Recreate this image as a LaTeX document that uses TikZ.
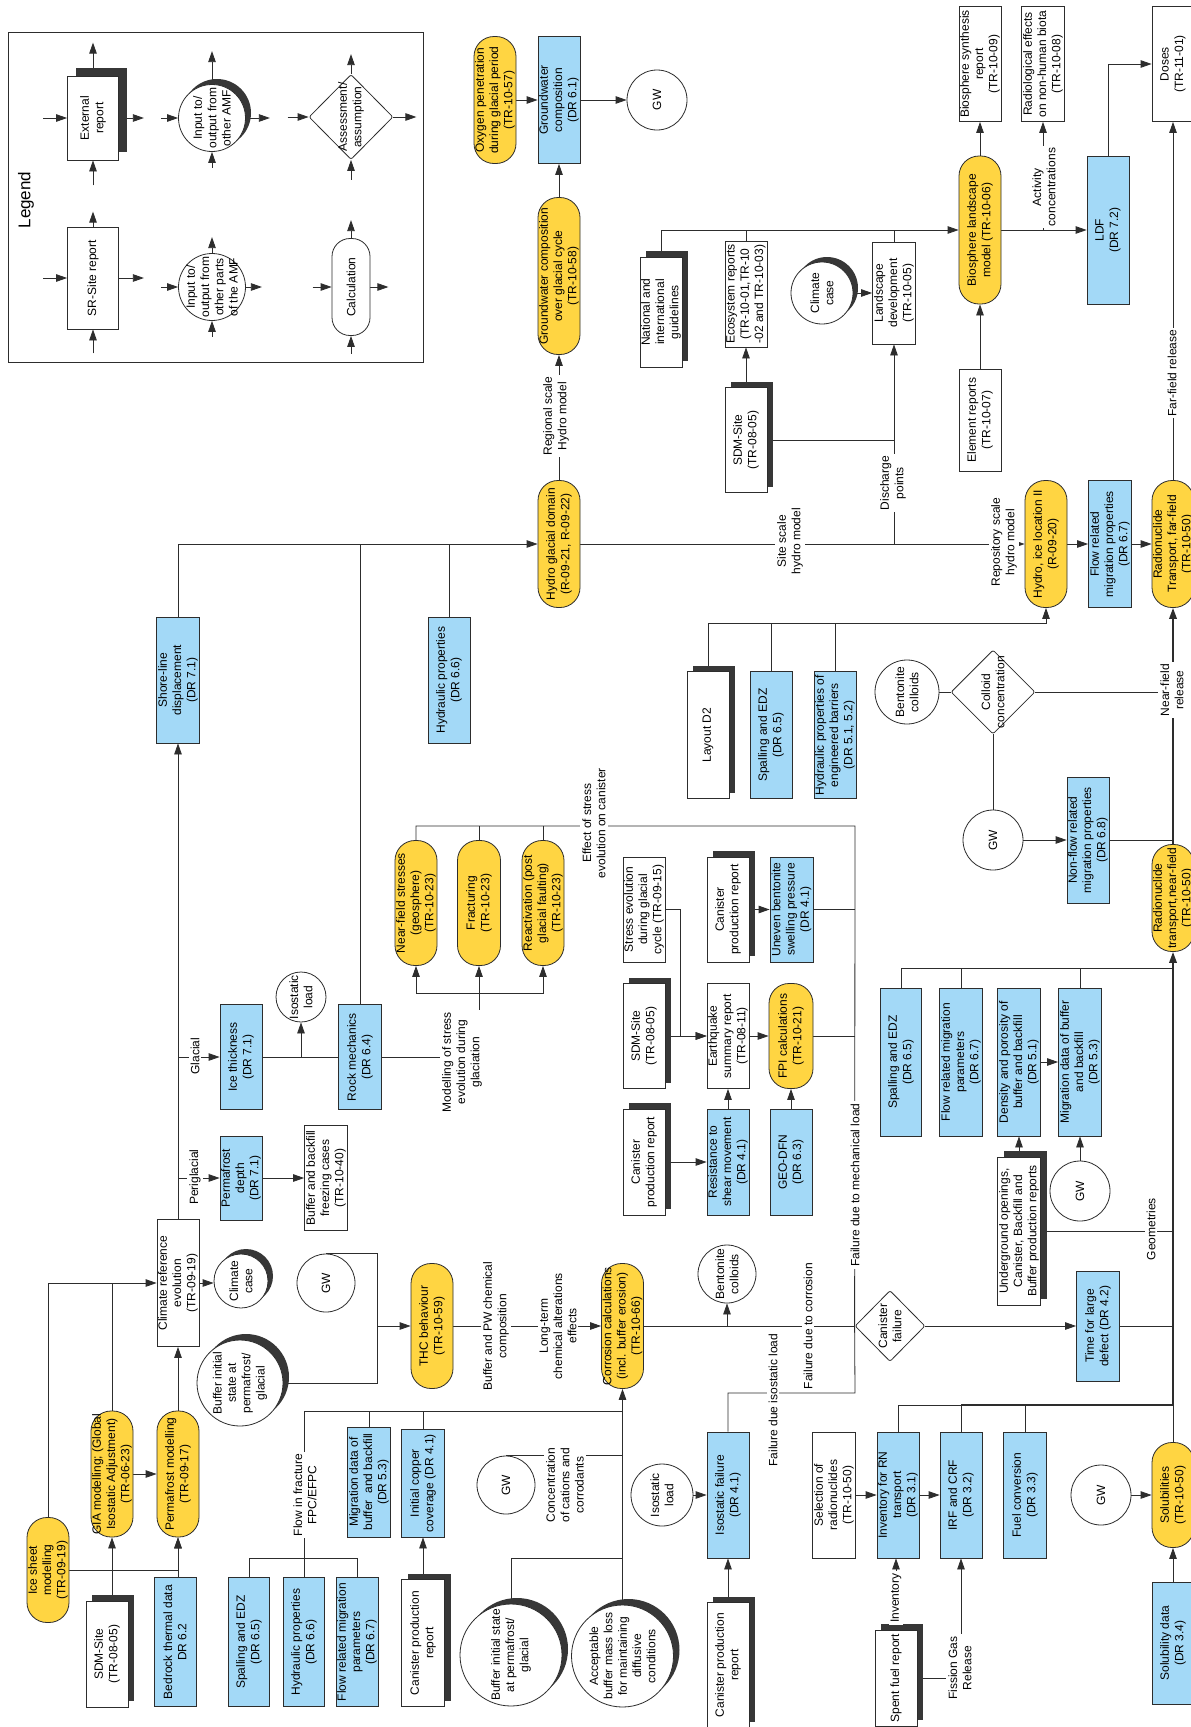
\documentclass[tikz,border=0pt]{standalone}
\usepackage{fontspec}
\setmainfont{Liberation Sans}
\usetikzlibrary{arrows.meta,shapes.geometric,backgrounds}
\definecolor{bluec}{RGB}{163,217,247}
\definecolor{yellowc}{RGB}{255,213,66}
\definecolor{linec}{RGB}{45,45,45}
\definecolor{shadowc}{RGB}{55,55,55}
\newcommand\diagfont{\fontsize{12}{14.3}\selectfont}
\newcommand\shrect[5][6]{\fill[shadowc] ({#2-#4/2+#1},{#3-#5/2-#1}) rectangle ({#2+#4/2+#1},{#3+#5/2-#1});}
\newcommand\shcirc[4][5]{\fill[shadowc] ({#2+#1},{#3-#1}) circle[radius=#4pt];}
\tikzset{
  nbase/.style={rotate=90, align=center, font=\diagfont, inner sep=1pt, line width=0.8pt, draw=linec},
  rep/.style={nbase, fill=white},
  blu/.style={nbase, fill=bluec},
  yel/.style={nbase, fill=yellowc, rounded corners=20pt},
  wh/.style 2 args={minimum height=#1pt, minimum width=#2pt},
  circ/.style={circle, draw=linec, fill=white, line width=0.8pt, inner sep=0pt},
  dia/.style={diamond, draw=linec, fill=white, line width=0.8pt, inner sep=0pt, rounded corners=2pt},
  ctext/.style={rotate=90, align=center, font=\diagfont, inner sep=0pt},
  lbl/.style={rotate=90, align=center, font=\diagfont, fill=white, inner sep=2pt},
  ln/.style={draw=linec, line width=0.8pt},
  arr/.style={ln, -{Triangle[length=11pt,width=7.5pt]}},
  heavy/.style={line width=1.8pt},
}
\begin{document}
\begin{tikzpicture}[x=1pt,y=-1pt]
\useasboundingbox (0,0) rectangle (1191,1727);
% ================= legend
\node[draw=linec, line width=0.8pt, minimum width=415pt, minimum height=330pt, inner sep=0pt] (legendframe) at (215.5,197) {};
\node[rotate=90, font=\fontsize{17}{20}\selectfont, inner sep=0pt] (legendtitle) at (26,200) {Legend};
\shrect[8]{93}{118}{51}{84}
\node[rep, wh={51}{84}] (Lext) at (93,118) {External\\report};
\node[rep, wh={51}{102}] (Lsr) at (93,278) {SR-Site report};
\shcirc[5]{212}{118}{34}
\node[circ, minimum size=67pt] (Lc2) at (212,118) {};
\node[ctext] (Lc2t) at (Lc2) {Input to/\\output from\\other AMF};
\node[circ, minimum size=67pt] (Lc1) at (212,287) {};
\node[ctext] (Lc1t) at (Lc1) {Input to/\\output from\\other parts\\of the AMF};
\node[dia, minimum width=84pt, minimum height=85pt] (Ldia) at (351,117) {};
\node[ctext] (Ldiat) at (Ldia) {Assessment/\\assumption};
\node[yel, fill=white, rounded corners=18pt, wh={38}{97}] (Lcalc) at (351,287) {Calculation};
% ================= top
\node[yel, wh={42}{127}] (oxy) at (495,100) {Oxygen penetration\\during glacial period\\(TR-10-57)};
\node[blu, wh={42}{127}] (gwc) at (559,100) {Groundwater\\composition\\(DR 6.1)};
\node[circ, rotate=90, font=\diagfont, minimum size=60pt] (gw1) at (657,100) {GW};
\node[yel, wh={42}{157}] (gcgc) at (559,276) {Groundwater composition\\over glacial cycle\\(TR-10-58)};
\shrect{661}{312}{42}{110}
\node[rep, wh={42}{110}] (nat) at (661,312) {National and\\international\\guidelines};
\node[rep, wh={42}{106}] (eco) at (746,294) {Ecosystem reports\\(TR-10-01,TR-10\\-02 and TR-10-03)};
\shrect{746}{440}{42}{105}
\node[rep, wh={42}{105}] (sdmA) at (746,440) {SDM-Site\\(TR-08-05)};
\shcirc{822}{293}{31}
\node[circ, minimum size=62pt] (ccA) at (822,293) {};
\node[ctext] (ccAt) at (ccA) {Climate\\case};
\node[rep, wh={43}{102}] (land) at (894,293) {Landscape\\development\\(TR-10-05)};
\node[yel, wh={42}{148}] (bio) at (980,230) {Biosphere landscape\\model (TR-10-06)};
\node[rep, wh={42}{115}] (bsyn) at (980,64) {Biosphere synthesis\\report\\(TR-10-09)};
\node[rep, wh={43}{115}] (rad) at (1043,64) {Radiological effects\\on non-human biota\\(TR-10-08)};
\node[rep, wh={42}{115}] (doses) at (1173,64) {Doses\\(TR-11-01)};
\node[rep, wh={42}{102}] (elem) at (980,420) {Element reports\\(TR-10-07)};
\node[blu, wh={42}{148}] (ldf) at (1108,230) {LDF\\(DR 7.2)};
% ================= middle
\node[yel, wh={42}{127}] (hgd) at (559,544) {Hydro glacial domain\\(R-09-21, R-09-22)};
\node[blu, wh={42}{126}] (hydA) at (449,680) {Hydraulic properties\\(DR 6.6)};
\node[blu, wh={43}{126}] (shore) at (178,680) {Shore-line\\displacement\\(DR 7.1)};
\node[yel, wh={42}{127}] (hil) at (1046,544) {Hydro, ice location II\\(R-09-20)};
\node[blu, wh={43}{127}] (frmpA) at (1110,544) {Flow related\\migration properties\\(DR 6.7)};
\node[yel, wh={42}{127}] (rtff) at (1173,544) {Radionuclide\\Transport, far-field\\(TR-10-50)};
\shrect{708}{735}{42}{127}
\node[rep, wh={42}{127}] (lay) at (708,735) {Layout D2};
\node[blu, wh={42}{127}] (spalA) at (771,735) {Spalling and EDZ\\(DR 6.5)};
\node[blu, wh={42}{127}] (hpeb) at (835,735) {Hydraulic properties of\\engineered barriers\\(DR 5.1, 5.2)};
\node[circ, minimum size=64pt] (bcA) at (907,692) {};
\node[ctext] (bcAt) at (bcA) {Bentonite\\colloids};
\node[dia, minimum width=84pt, minimum height=84pt] (colc) at (993,692) {};
\node[ctext] (colct) at (colc) {Colloid\\concentration};
\node[circ, rotate=90, font=\diagfont, minimum size=60pt] (gwB) at (993,840) {GW};
\node[blu, wh={42}{126}] (nfmp) at (1088,840) {Non-flow related\\migration properties\\(DR 6.8)};
\node[yel, wh={42}{107}] (rtnf) at (1173,898) {Radionuclide\\transport,near-field\\(TR-10-50)};
% ================= stress area
\node[yel, wh={42}{125}] (nfs) at (416,903) {Near-field stresses\\(geosphere)\\(TR-10-23)};
\node[yel, wh={43}{125}] (frac) at (479,903) {Fracturing\\(TR-10-23)};
\node[yel, wh={42}{125}] (react) at (543,903) {Reactivation (post\\glacial faulting)\\(TR-10-23)};
\node[rep, wh={42}{105}] (stress) at (644,909.5) {Stress evolution\\during glacial\\cycle (TR-09-15)};
\shrect{728}{909.5}{42}{105}
\node[rep, wh={42}{105}] (cprA) at (728,909.5) {Canister\\production report};
\node[blu, wh={43}{105}] (uneven) at (791.5,909.5) {Uneven bentonite\\swelling pressure\\(DR 4.1)};
\shrect{644}{1036}{42}{105}
\node[rep, wh={42}{105}] (sdmB) at (644,1036) {SDM-Site\\(TR-08-05)};
\node[rep, wh={42}{105}] (eq) at (728,1036) {Earthquake\\summary report\\(TR-08-11)};
\node[yel, wh={44}{105}] (fpi) at (791,1036) {FPI calculations\\(TR-10-21)};
\shrect{644}{1162}{42}{106}
\node[rep, wh={42}{106}] (cprB) at (644,1162) {Canister\\production report};
\node[blu, wh={42}{106}] (res) at (728,1162) {Resistance to\\shear movement\\(DR 4.1)};
\node[blu, wh={42}{106}] (geo) at (791,1162) {GEO-DFN\\(DR 6.3)};
% ================= right middle
\node[blu, wh={41}{148}] (spalB) at (901,1062) {Spalling and EDZ\\(DR 6.5)};
\node[blu, wh={43}{148}] (frmpB) at (961,1062) {Flow related migration\\parameters\\(DR 6.7)};
\node[blu, wh={43}{148}] (dens) at (1019,1062) {Density and porosity of\\buffer and backfill\\(DR 5.1)};
\node[blu, wh={43}{148}] (migB) at (1080,1062) {Migration data of buffer\\and backfill\\(DR 5.3)};
\shrect{1019}{1231}{43}{148}
\node[rep, wh={43}{148}] (ug) at (1019,1231) {Underground openings,\\Canister, Backfill and\\Buffer production reports};
\node[circ, rotate=90, font=\diagfont, minimum size=60pt] (gwC) at (1080,1191) {GW};
\node[blu, wh={43}{110}] (tld) at (1098,1326) {Time for large\\defect (DR 4.2)};
\node[dia, minimum width=70pt, minimum height=71pt] (cf) at (890,1326) {};
\node[ctext] (cft) at (cf) {Canister\\failure};
% ================= climate
\node[rep, wh={42}{127}] (climref) at (178,1283) {Climate reference\\evolution\\(TR-09-19)};
\node[blu, wh={42}{84}] (pfd) at (241,1178) {Permafrost\\depth\\(DR 7.1)};
\node[rep, wh={43}{105}] (bbf) at (326,1178) {Buffer and backfill\\freezing cases\\(TR-10-40)};
\node[blu, wh={42}{105}] (ice) at (241,1057) {Ice thickness\\(DR 7.1)};
\node[circ, minimum size=50pt] (isoA) at (301,997) {};
\node[ctext] (isoAt) at (isoA) {Isostatic\\load};
\node[blu, wh={43}{105}] (rock) at (360,1057) {Rock mechanics\\(DR 6.4)};
\shcirc{241}{1281}{27}
\node[circ, minimum size=54pt] (ccB) at (241,1281) {};
\node[ctext] (ccBt) at (ccB) {Climate\\case};
\node[circ, rotate=90, font=\diagfont, minimum size=58pt] (gwD) at (326,1283) {GW};
\shcirc[6]{240}{1383}{43}
\node[circ, minimum size=86pt] (bisA) at (240,1383) {};
\node[ctext] (bisAt) at (bisA) {Buffer initial\\state at\\permafrost/\\glacial};
\node[yel, wh={42}{125}] (thc) at (432,1326) {THC behaviour\\(TR-10-59)};
\node[yel, wh={42}{125}] (corr) at (622.5,1326) {Corrosion calculations\\(incl. buffer erosion)\\(TR-10-66)};
\node[circ, minimum size=58pt] (bcB) at (727,1274) {};
\node[ctext] (bcBt) at (bcB) {Bentonite\\colloids};
% ================= left bottom
\node[yel, wh={42}{105}] (isheet) at (48,1570) {Ice sheet\\modelling\\(TR-09-19)};
\node[yel, wh={42}{126}] (gia) at (112,1474) {GIA modelling; (Global\\Isostatic Adjustment)\\(TR-06-23)};
\node[yel, wh={42}{126}] (pfm) at (178,1474) {Permafrost modelling\\(TR-09-17)};
\shrect{107}{1654}{42}{106}
\node[rep, wh={42}{106}] (sdmC) at (107,1654) {SDM-Site\\(TR-08-05)};
\node[blu, wh={42}{129}] (btd) at (175,1642) {Bedrock thermal data\\DR 6.2};
\node[blu, wh={41}{129}] (spalC) at (249,1642) {Spalling and EDZ\\(DR 6.5)};
\node[blu, wh={41}{129}] (hydC) at (304,1642) {Hydraulic properties\\(DR 6.6)};
\node[blu, wh={42}{129}] (frmpC) at (357,1642) {Flow related migration\\parameters\\(DR 6.7)};
\node[blu, wh={43}{110}] (migA) at (369,1482) {Migration data of\\buffer\ \ and backfill\\(DR 5.3)};
\node[blu, wh={43}{108}] (icc) at (423,1483) {Initial copper\\coverage (DR 4.1)};
\shrect{423}{1643}{43}{127}
\node[rep, wh={43}{127}] (cprC) at (423,1643) {Canister production\\report};
\node[circ, rotate=90, font=\diagfont, minimum size=58pt] (gwE) at (506,1485) {GW};
\shcirc[6]{511}{1655}{51}
\node[circ, minimum size=102pt] (bisB) at (511,1655) {};
\node[ctext] (bisBt) at (bisB) {Buffer initial state\\at permafrost/\\glacial};
\shcirc[6]{622.5}{1656}{51}
\node[circ, minimum size=102pt] (abml) at (622.5,1656) {};
\node[ctext] (abmlt) at (abml) {Acceptable\\buffer mass loss\\for maintaining\\diffusive\\conditions};
\node[circ, minimum size=62pt] (isoB) at (662,1495) {};
\node[ctext] (isoBt) at (isoB) {Isostatic\\load};
\node[blu, wh={42}{126}] (isof) at (728,1495) {Isostatic failure\\(DR 4.1)};
\shrect{728}{1665}{42}{125}
\node[rep, wh={42}{125}] (cprD) at (728,1665) {Canister production\\report};
% ================= right bottom
\node[rep, wh={43}{126}] (sel) at (834,1495) {Selection of\\radionuclides\\(TR-10-50)};
\node[blu, wh={42}{126}] (inv) at (898,1495) {Inventory for RN\\transport\\(DR 3.1)};
\node[blu, wh={42}{126}] (irf) at (961,1495) {IRF and CRF\\(DR 3.2)};
\node[blu, wh={43}{126}] (fuel) at (1025,1495) {Fuel conversion\\(DR 3.3)};
\shrect{896}{1678}{42}{96}
\node[rep, wh={42}{96}] (spent) at (896,1678) {Spent fuel report};
\node[yel, wh={42}{105}] (sol) at (1173,1495) {Solubilities\\(TR-10-50)};
\node[circ, rotate=90, font=\diagfont, minimum size=60pt] (gwF) at (1101,1495) {GW};
\node[blu, wh={42}{122}] (soldat) at (1173,1643) {Solubility data\\(DR 3.4)};
% ================= labels
\node[lbl] (Lregional) at (556,416) {Regional scale\\Hydro model};
\node[lbl] (Lsite) at (790,541) {Site scale\\hydro model};
\node[lbl] (Ldis) at (893,483) {Discharge\\points};
\node[lbl] (Lrepo) at (1004,542) {Repository scale\\hydro model};
\node[lbl] (Lact) at (1044,187) {Activity\\concentrations};
\node[lbl] (Lfar) at (1172,373) {Far-field release};
\node[lbl] (Lnear) at (1172,690) {Near-field\\release};
\node[lbl] (Leffect) at (594,823) {Effect of stress\\evolution on canister};
\node[lbl] (Lmod) at (462,1062) {Modelling of stress\\evolution during\\glaciation};
\node[lbl] (Lperi) at (195,1177) {Periglacial};
\node[lbl] (Lglac) at (195,1056) {Glacial};
\node[lbl] (Lmech) at (855,1185) {Failure due to mechanical load};
\node[lbl] (Lbpw) at (496,1326) {Buffer and PW chemical\\composition};
\node[lbl] (Llong) at (558,1326) {Long-term\\chemical alterations\\effects};
\node[lbl] (Lcorr) at (808,1326) {Failure due to corrosion};
\node[lbl] (Liso) at (773,1400) {Failure due isostatic load};
\node[lbl] (Lflow) at (305,1495) {Flow in fracture\\FPC/EFPC};
\node[lbl] (Lconc) at (565,1485) {Concentration\\of cations and\\corrodants};
\node[lbl] (Lgeom) at (1151,1229) {Geometries};
\node[lbl] (Linv) at (896,1598) {Inventory};
\node[lbl] (Lfis) at (960,1668) {Fission Gas\\Release};
% ================= connectors
\begin{pgfonlayer}{background}
\fill[white] (0,0) rectangle (1191,1727);
% legend arrows
\draw[arr] ([xshift=-24pt]Lsr.north) -- (Lsr.north);
\draw[arr] (Lsr.south) -- ([xshift=25pt]Lsr.south);
\draw[arr] (Lsr.east) -- ([yshift=15pt]Lsr.east);
\draw[arr] ([yshift=-24pt]Lsr.west) -- (Lsr.west);
\draw[arr] ([xshift=-24pt]Lext.north) -- (Lext.north);
\draw[arr] (Lext.south) -- ([xshift=25pt]Lext.south);
\draw[arr] (Lext.east) -- ([yshift=33pt]Lext.east);
\draw[arr] ([yshift=-25pt]Lext.west) -- (Lext.west);
\draw[arr] ([xshift=-17pt]Lc1.west) -- (Lc1.west);
\draw[arr] (Lc1.east) -- ([xshift=16pt]Lc1.east);
\draw[arr] (Lc1.north) -- ([yshift=16pt]Lc1.north);
\draw[arr] ([yshift=-16pt]Lc1.south) -- (Lc1.south);
\draw[arr] ([xshift=-17pt]Lc2.west) -- (Lc2.west);
\draw[arr] (Lc2.east) -- ([xshift=24pt]Lc2.east);
\draw[arr] (Lc2.north) -- ([yshift=33pt]Lc2.north);
\draw[arr] ([yshift=-16pt]Lc2.south) -- (Lc2.south);
\draw[arr] ([xshift=-19pt]Lcalc.north) -- (Lcalc.north);
\draw[arr] (Lcalc.south) -- ([xshift=18pt]Lcalc.south);
\draw[arr] (Lcalc.east) -- ([yshift=18pt]Lcalc.east);
\draw[arr] ([yshift=-18pt]Lcalc.west) -- (Lcalc.west);
\draw[arr] ([xshift=-21pt]Ldia.west) -- (Ldia.west);
\draw[arr] (Ldia.east) -- ([xshift=23pt]Ldia.east);
\draw[arr] (Ldia.north) -- ([yshift=20pt]Ldia.north);
\draw[arr] ([yshift=-20pt]Ldia.south) -- (Ldia.south);
% top
\draw[arr] (oxy) -- (gwc);
\draw[arr] (gwc) -- (gw1);
\draw[arr] (gcgc) -- (gwc);
\draw[arr] (hgd) -- (gcgc);
\draw[arr] (shore.east) |- (hgd.north);
\draw[ln] (hydA.east) -- (hydA.east |- hgd.center);
\draw[ln] (rock.east) -- (rock.east |- hgd.center);
\draw[arr] (hgd) -- (hil);
\draw[arr] (hgd.center -| land.center) -- (land.west);
\draw[ln] (sdmA.south) -- (sdmA.south -| land.center);
\draw[arr] (sdmA) -- (eco);
\draw[arr] (ccA) -- (land);
\draw[ln] (land.east) -- (land.east |- bio.center);
\draw[ln] (eco.east) -- (eco.east |- bio.center);
\draw[arr] (nat.east) |- (bio.north);
\draw[arr] (elem) -- (bio);
\draw[arr] (bio) -- (bsyn);
\draw[arr] (bio) -- (ldf);
\draw[arr] (bio.center -| rad.center) -- (rad.west);
\draw[arr] (ldf.east) |- (doses.north);
\draw[arr] (rtff) -- (doses);
\draw[arr] (hil) -- (frmpA);
\draw[arr] (frmpA) -- (rtff);
\coordinate (jlay) at (708,623);
\draw[arr] (lay.east) -- (jlay) -| (hil.west);
\draw[ln] (spalA.east) -- (spalA.east |- jlay);
\draw[ln] (hpeb.east) -- (hpeb.east |- jlay);
\draw[ln] (bcA) -- (colc);
\draw[ln] (colc) -- (gwB);
\draw[ln] (colc.east) -- (colc.east -| rtnf.center);
\draw[arr] (gwB) -- (nfmp);
\draw[ln] (nfmp.south) -- (nfmp.south -| rtnf.center);
\draw[arr, heavy] (rtnf.east) -- (rtff.west);
% near-field inputs
\coordinate (jnf) at (1173,968);
\coordinate (jsol) at (1173,1405);
\draw[ln] (spalB.east) |- (jnf);
\draw[ln] (frmpB.east) -- (frmpB.east |- jnf);
\draw[ln] (migB.east) -- (migB.east |- jnf);
\draw[arr, heavy] (jsol) -- (rtnf.west);
\draw[ln] (sol.east) -- (jsol);
\draw[ln] (inv.east) |- (jsol);
\draw[ln, heavy] (irf.east |- jsol) -- (jsol);
\draw[ln] (irf.east) -- (irf.east |- jsol);
\draw[ln] (fuel.east) -- (fuel.east |- jsol);
\draw[ln] (ug.south) -- (ug.south -| jsol);
\draw[ln] (tld.south) -- (tld.south -| jsol);
\draw[arr] (gwF) -- (sol);
\draw[arr] (soldat) -- (sol);
\draw[arr] (dens) -- (migB);
\draw[arr] (ug) -- (dens);
\draw[arr] (gwC) -- (migB);
% canister failure
\draw[arr] (cf) -- (tld);
\draw[ln] (corr) -- (cf);
\draw[arr] (bcB.center |- cf.center) -- (bcB);
\coordinate (jm1) at (855,826);
\coordinate (jm2) at (855,1393);
\draw[ln] (nfs.east) |- (jm1) -- (cf.west);
\draw[ln] (frac.east) -- (frac.east |- jm1);
\draw[ln] (react.east) -- (react.east |- jm1);
\draw[ln] (isof.east) |- (jm2) -- (cf.west);
\draw[ln] (uneven.south) -- (uneven.south -| jm1);
\draw[ln] (fpi.south) -- (fpi.south -| jm1);
\coordinate (jst) at (680,1036);
\draw[arr] (stress.south) -| (jst) -- (eq.north);
\draw[arr] (sdmB) -- (eq);
\draw[arr] (eq) -- (fpi);
\draw[arr] (cprB) -- (res);
\draw[arr] (res) -- (eq);
\draw[arr] (geo) -- (fpi);
\draw[arr] (cprA) -- (uneven);
% modelling of stress
\draw[ln] (rock.south) -- (rock.south -| Lmod.north);
\coordinate (jmod) at (479,993);
\draw[ln] (Lmod.east -| frac.center) -- (jmod);
\draw[arr] (jmod) -| (nfs.west);
\draw[arr] (jmod) -- (frac.west);
\draw[arr] (jmod) -| (react.west);
% climate
\draw[arr] (climref) -- (shore);
\draw[arr] (climref.east |- pfd.center) -- (pfd.north);
\draw[arr] (climref.east |- ice.center) -- (ice.north);
\draw[arr] (pfd) -- (bbf);
\draw[ln] (ice) -- (rock);
\draw[arr] (isoA.center |- ice.center) -- (isoA);
\draw[arr] (climref.south) -- (climref.south -| ccB.west);
\coordinate (jthc) at (377,1326);
\draw[arr] (gwD.east) -| (jthc) -- (thc.north);
\draw[ln] (bisA.east) -| (jthc);
\draw[arr] (thc) -- (corr);
\draw[arr] (isheet.east) |- (climref.north);
\draw[ln] (gia.east) -- (gia.east |- climref.center);
\draw[arr] (gia) -- (pfm);
\draw[arr] (pfm) -- (climref);
\draw[arr] (isheet.south) -| (pfm.west);
\draw[arr] (sdmC.east -| gia.center) -- (gia.west);
\draw[arr] (btd.east -| pfm.center) -- (pfm.west);
% bottom middle
\coordinate (jff) at (304,1558);
\coordinate (jtop) at (304,1411);
\draw[ln] (spalC.east) |- (jff);
\draw[ln] (frmpC.east) |- (jff);
\draw[ln] (hydC.east) -- (jtop);
\draw[ln] (jtop) -- (jtop -| corr.center);
\draw[ln] (migA.east) -- (migA.east |- jtop);
\draw[ln] (icc.east) -- (icc.east |- jtop);
\coordinate (jb) at (622.5,1558);
\draw[arr] (abml.north) -- (corr.west);
\draw[ln] (gwE.east) -- (gwE.east -| corr.center);
\draw[ln] (bisB.north) |- (jb);
\draw[arr] (cprC) -- (icc);
\draw[arr] (isoB) -- (isof);
\draw[arr] (cprD) -- (isof);
% bottom right
\draw[arr] (sel) -- (inv);
\draw[arr] (inv) -- (irf);
\draw[arr] (spent.east) -- (spent.east |- inv.west);
\draw[arr] (spent.south) -| (irf.west);
\end{pgfonlayer}
\end{tikzpicture}
\end{document}
